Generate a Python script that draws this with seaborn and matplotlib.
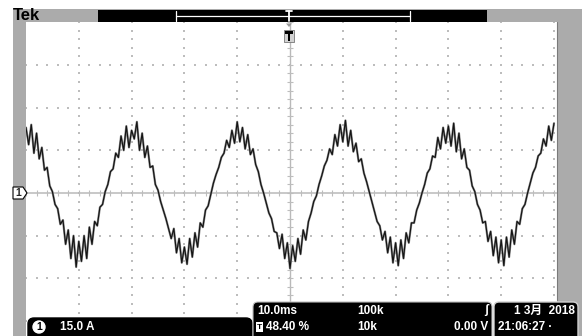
import numpy as np
import pandas as pd
import matplotlib
matplotlib.use("Agg")
import matplotlib.pyplot as plt
import seaborn as sns
from matplotlib import font_manager
from matplotlib.patches import Rectangle, FancyBboxPatch, Polygon, Circle

# --- Scope settings shown on screen ---
time_per_div_ms = 10.0
amps_per_div = 15.0
ch1_scale_label = "15.0 A"
timebase_label = "10.0ms"
trigger_pos_label = "48.40 %"
record_labels = ["100k", "10k"]
trigger_level_label = "0.00 V"
date_label = "1 3月  2018"
clock_label = "21:06:27 ·"

# --- Channel 1 trace (A), one sample every 0.5 ms from -50 ms ---
trace_start_ms = -50.0
sample_step_ms = 0.5
ch1_current_a = [
    23, 17, 24, 14, 21, 12, 16, 8, 9, 2.5, 0.5, -4, -5.5, -11, -9.5, -18, -13, -23, -15, -26,
    -17, -24, -15, -23, -12, -18, -10, -11.5, -5, -4, 0.5, 3, 7.5, 8.5, 14, 12.5, 20, 15, 23.5, 16,
    22, 19, 25, 15, 21, 12.5, 16.5, 9, 9.5, 3, 1, -3, -6, -9, -12.5, -16, -12.5, -21, -16, -24.5,
    -19, -25, -16, -22.5, -14, -19, -10.5, -12, -6, -4.5, -0.5, 3.5, 6.5, 9, 12.5, 14, 18.5, 16, 22, 17.5,
    25, 18, 23, 15.5, 20.5, 13.5, 15.5, 10, 7.5, 3, 0, -3.5, -7, -9, -13.5, -14, -19.5, -14.5, -23, -17.5,
    -26.5, -18.5, -24, -16, -21.5, -13, -16.5, -10, -7, -3, -1, 3, 6, 9.5, 11.5, 15.5, 13.5, 20.5, 16.5, 24,
    18, 25.5, 16.5, 22, 14.5, 17.5, 11, 12, 7, 4, 0.5, -3, -6.5, -10, -11.5, -16.5, -13.5, -21, -15.5, -24.5,
    -17.5, -25.5, -16.5, -23, -14, -17.5, -10.5, -10.5, -6, -3.5, 0, 3, 7, 8.5, 13, 12.5, 19.5, 15.5, 23, 17.5,
    23.5, 16.5, 24.5, 14.5, 21, 12, 15.5, 9, 8, 2.5, 0.5, -4, -6, -10.5, -10, -17, -13.5, -22, -15.5, -24.5,
    -16.5, -25.5, -15.5, -22.5, -13, -18, -10, -11, -5.5, -4, 0, 3.5, 7, 9, 13, 14, 19, 16.5, 23.5, 18.5,
    24.5,
]

# --- Screen geometry (pixels) ---
W, H = 582, 336
GRAT_X0, GRAT_X1, GRAT_Y0, GRAT_Y1 = 26, 557, 22, 336
CX, CY = 290, 193
PX_DIV_X, PX_DIV_Y = 52.8, 42.7


def pick_font(names):
    for name in names:
        try:
            font_manager.findfont(name, fallback_to_default=False)
            return name
        except ValueError:
            pass
    return 'DejaVu Sans'


BASE = pick_font(['Liberation Sans Narrow', 'Liberation Sans'])
FONT = [BASE, 'DejaVu Sans']
FONT_CJK = [BASE, 'Noto Sans CJK SC', 'DejaVu Sans']
GRAY = '#ababab'
GRID = '#bdbdbd'

sns.set_style('white')
plt.rcParams['font.family'] = FONT

df = pd.DataFrame({
    'time_ms': trace_start_ms + sample_step_ms * np.arange(len(ch1_current_a)),
    'current_a': ch1_current_a,
})

fig = plt.figure(figsize=(W / 100, H / 100), dpi=100)
fig.patch.set_facecolor('white')


def pixel_axes(zorder):
    a = fig.add_axes([0, 0, 1, 1], zorder=zorder)
    a.set_xlim(0, W)
    a.set_ylim(H, 0)
    a.axis('off')
    return a


# --- Background frame and top bar ---
bg = pixel_axes(0)
bg.add_patch(Rectangle((13, 9), W - 13, H - 9, color=GRAY, lw=0))
bg.add_patch(Rectangle((GRAT_X0, GRAT_Y0), GRAT_X1 - GRAT_X0, GRAT_Y1 - GRAT_Y0, color='white', lw=0))
bg.plot([GRAT_X1, GRAT_X1], [GRAT_Y0, 300], color='#7a7a7a', lw=0.8)
bg.text(12.5, 16, 'Tek', fontsize=12, fontweight='bold', va='center', ha='left', color='black')
bg.add_patch(Rectangle((98, 10), 389, 12, color='black', lw=0))
bg.plot([176, 410], [15.5, 15.5], color='white', lw=0.9)
bg.plot([176, 176], [11, 21], color='white', lw=0.9)
bg.plot([410, 410], [11, 21], color='white', lw=0.9)
bg.plot([286, 292], [11, 11], color='white', lw=1.3)
bg.plot([289, 289], [11, 21], color='white', lw=1.3)

# --- Graticule and trace ---
ax = fig.add_axes([GRAT_X0 / W, 1 - GRAT_Y1 / H, (GRAT_X1 - GRAT_X0) / W, (GRAT_Y1 - GRAT_Y0) / H], zorder=1)
xlim = ((GRAT_X0 - CX) / PX_DIV_X * time_per_div_ms, (GRAT_X1 - CX) / PX_DIV_X * time_per_div_ms)
ylim = ((CY - GRAT_Y1) / PX_DIV_Y * amps_per_div, (CY - GRAT_Y0) / PX_DIV_Y * amps_per_div)

minor_x = time_per_div_ms / 5
minor_y = amps_per_div / 5
xs_minor = np.arange(-50, 50.01, minor_x)
ys_minor = np.arange(-4 * amps_per_div, 4 * amps_per_div + 0.01, minor_y)
dots_x, dots_y = [], []
for k in range(-4, 6):
    gx = k * time_per_div_ms
    if gx == 0:
        continue
    dots_x += [gx] * len(ys_minor)
    dots_y += list(ys_minor)
for j in range(-4, 4):
    gy = j * amps_per_div
    if gy == 0:
        continue
    dots_x += list(xs_minor)
    dots_y += [gy] * len(xs_minor)
ax.scatter(dots_x, dots_y, s=1.2, marker='s', color=GRID, linewidths=0, zorder=1)

ax.axhline(0, color='#b9b9b9', lw=1.1, zorder=1)
ax.axvline(0, color='#b9b9b9', lw=1.0, zorder=1)
ax.vlines(xs_minor, -0.9, 0.9, color='#bdbdbd', lw=0.8, zorder=1)
ax.hlines(ys_minor, -0.5, 0.5, color='#bdbdbd', lw=0.8, zorder=1)

sns.lineplot(data=df, x='time_ms', y='current_a', ax=ax, color='#8c8c8c',
             linewidth=1.6, estimator=None, legend=False, zorder=2)
sns.lineplot(data=df, x='time_ms', y='current_a', ax=ax, color='#141414',
             linewidth=0.85, estimator=None, legend=False, zorder=3)
ax.set_xlim(*xlim)
ax.set_ylim(*ylim)
ax.axis('off')

# --- Overlay: markers and readouts ---
ov = pixel_axes(2)
ov.add_patch(Polygon([(286, 23.5), (292, 23.5), (289, 27)], color='#9a9a9a', lw=0))
ov.add_patch(Rectangle((284, 30), 10, 12, facecolor='#d2d2d2', edgecolor='#777777', lw=0.6))
ov.add_patch(Rectangle((285, 31), 8, 3, color='black', lw=0))
ov.add_patch(Rectangle((288, 34), 2, 7, color='black', lw=0))

ov.add_patch(Polygon([(13, 187), (23, 187), (27, 193), (23, 199), (13, 199)],
                     facecolor='white', edgecolor='black', lw=0.8))
ov.text(18.5, 193.5, '1', fontsize=7.5, fontweight='bold', ha='center', va='center')

ov.add_patch(FancyBboxPatch((28, 318), 224, 26, boxstyle='round,pad=0,rounding_size=6',
                            facecolor='black', edgecolor='black'))
ov.add_patch(Circle((39, 327), 6, color='white'))
ov.text(39, 327.5, '1', fontsize=7.5, fontweight='bold', ha='center', va='center', color='black')
ov.text(60, 327.5, ch1_scale_label, fontsize=8.5, fontweight='bold', ha='left', va='center', color='white')

ov.add_patch(FancyBboxPatch((253, 302), 239, 42, boxstyle='round,pad=0,rounding_size=5',
                            facecolor='black', edgecolor='#bdbdbd', lw=0.8))
ov.add_patch(FancyBboxPatch((494, 302), 84, 42, boxstyle='round,pad=0,rounding_size=5',
                            facecolor='black', edgecolor='#cfcfcf', lw=1.0))

txt = dict(fontsize=8.5, fontweight='bold', va='center', color='white')
ov.text(257, 310.5, timebase_label, ha='left', **txt)
ov.text(357, 310.5, record_labels[0], ha='left', **txt)
ov.text(486, 310.5, 'ʃ', ha='center', **txt)
ov.add_patch(Rectangle((256, 322), 7, 10, color='white', lw=0))
ov.text(259.5, 327.5, 'T', fontsize=6, fontweight='bold', ha='center', va='center', color='black')
ov.text(266, 327.5, trigger_pos_label, ha='left', **txt)
ov.text(357, 327.5, record_labels[1], ha='left', **txt)
ov.text(488, 327.5, trigger_level_label, ha='right', **txt)
ov.text(575, 310.5, date_label, ha='right', family=FONT_CJK, **txt)
ov.text(498, 327.5, clock_label, ha='left', **txt)

fig.savefig('out.png', dpi=100, facecolor='white')
plt.close(fig)
